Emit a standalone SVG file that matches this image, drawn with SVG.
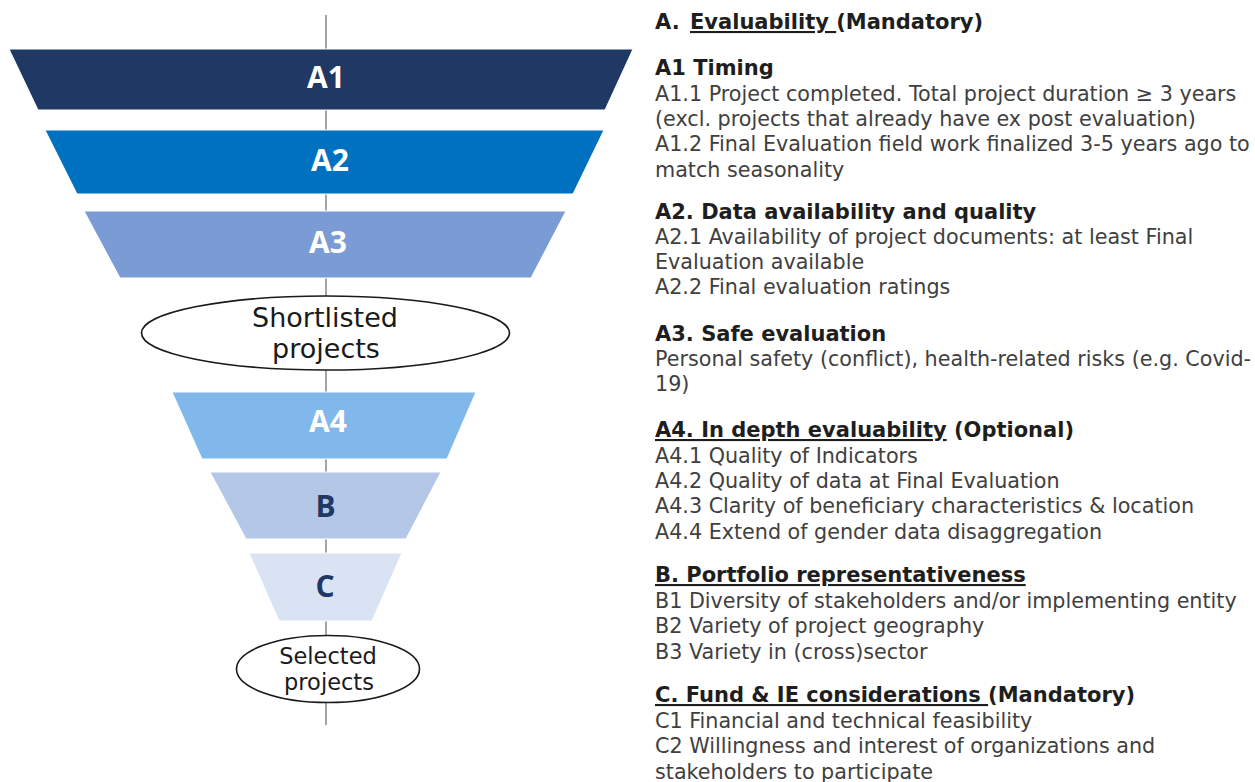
<svg xmlns="http://www.w3.org/2000/svg" width="1255" height="782" viewBox="0 0 1255 782">
<style>
.stage{stroke:#ffffff;stroke-width:1}
.lbl{font-family:"Open Sans","DejaVu Sans",sans-serif;font-weight:700;font-size:30px;text-anchor:middle}
.lw{fill:#ffffff}
.ld{fill:#1f3864}
.oval{fill:#ffffff;stroke:#1a1a1a;stroke-width:1.6}
.otxt{font-family:"DejaVu Sans",sans-serif;fill:#1a1a1a;text-anchor:middle}
.spine{stroke:#7f7f7f;stroke-width:1.4;fill:none}
.h{font-family:"DejaVu Sans",sans-serif;font-weight:700;font-size:21px;fill:#1e1e1e}
.b{font-family:"DejaVu Sans",sans-serif;font-size:20.7px;fill:#404040}
.u{text-decoration:underline}
</style>
<rect width="1255" height="782" fill="#ffffff"/>
<g id="connectors">
<line class="spine" x1="326" y1="15" x2="326" y2="725"/>
</g>
<g id="stage-A1">
<polygon class="stage" fill="#203864" points="9,49 633,49 605,110 38,110"/>
<text class="lbl lw" x="326" y="88">A1</text>
</g>
<g id="stage-A2">
<polygon class="stage" fill="#0070c0" points="45,130 604,130 573,194 77,194"/>
<text class="lbl lw" x="330" y="170.5">A2</text>
</g>
<g id="stage-A3">
<polygon class="stage" fill="#7a9bd4" points="84,211 566,211 531,278 120,278"/>
<text class="lbl lw" x="328" y="252.5">A3</text>
</g>
<g id="shortlisted">
<ellipse class="oval" cx="325.5" cy="333" rx="184" ry="37"/>
<text class="otxt" font-size="27" x="325" y="326.5">Shortlisted</text>
<text class="otxt" font-size="27" x="326" y="358">projects</text>
</g>
<g id="stage-A4">
<polygon class="stage" fill="#80b8eb" points="172,392 476,392 447,459 202,459"/>
<text class="lbl lw" x="328" y="431.5">A4</text>
</g>
<g id="stage-B">
<polygon class="stage" fill="#b4c7e7" points="210,472 441,472 406,539 246,539"/>
<text class="lbl ld" x="325.5" y="516.5">B</text>
</g>
<g id="stage-C">
<polygon class="stage" fill="#dae3f3" points="249,553 402,553 372,621 279,621"/>
<text class="lbl ld" x="325" y="596.5">C</text>
</g>
<g id="selected">
<ellipse class="oval" cx="328" cy="669" rx="91.5" ry="33.5"/>
<text class="otxt" font-size="22.5" x="328" y="664">Selected</text>
<text class="otxt" font-size="22.5" x="329" y="690">projects</text>
</g>
<g id="criteria">
<text class="h" x="655" y="29">A.<tspan x="690" class="u">Evaluability </tspan><tspan>(Mandatory)</tspan></text>
<text class="h" x="655" y="75">A1 Timing</text>
<text class="b" x="655" y="100.7">A1.1 Project completed. Total project duration ≥ 3 years</text>
<text class="b" x="655" y="126">(excl. projects that already have ex post evaluation)</text>
<text class="b" x="655" y="151.3">A1.2 Final Evaluation field work finalized 3-5 years ago to</text>
<text class="b" x="655" y="176.6">match seasonality</text>
<text class="h" x="655" y="218.5">A2. Data availability and quality</text>
<text class="b" x="655" y="243.5">A2.1 Availability of project documents: at least Final</text>
<text class="b" x="655" y="268.5">Evaluation available</text>
<text class="b" x="655" y="293.5">A2.2 Final evaluation ratings</text>
<text class="h" x="655" y="340.5">A3. Safe evaluation</text>
<text class="b" x="655" y="365.5">Personal safety (conflict), health-related risks (e.g. Covid-</text>
<text class="b" x="655" y="390.5">19)</text>
<text class="h" x="655" y="437"><tspan class="u">A4. In depth evaluability</tspan> (Optional)</text>
<text class="b" x="655" y="463">A4.1 Quality of Indicators</text>
<text class="b" x="655" y="488">A4.2 Quality of data at Final Evaluation</text>
<text class="b" x="655" y="513.3">A4.3 Clarity of beneficiary characteristics &amp; location</text>
<text class="b" x="655" y="538.5">A4.4 Extend of gender data disaggregation</text>
<text class="h u" x="655" y="582">B. Portfolio representativeness</text>
<text class="b" x="655" y="608">B1 Diversity of stakeholders and/or implementing entity</text>
<text class="b" x="655" y="633.3">B2 Variety of project geography</text>
<text class="b" x="655" y="658.5">B3 Variety in (cross)sector</text>
<text class="h" x="655" y="702"><tspan class="u">C. Fund &amp; IE considerations </tspan><tspan>(Mandatory)</tspan></text>
<text class="b" x="655" y="728">C1 Financial and technical feasibility</text>
<text class="b" x="655" y="753.3">C2 Willingness and interest of organizations and</text>
<text class="b" x="655" y="778.6">stakeholders to participate</text>
</g>
</svg>
